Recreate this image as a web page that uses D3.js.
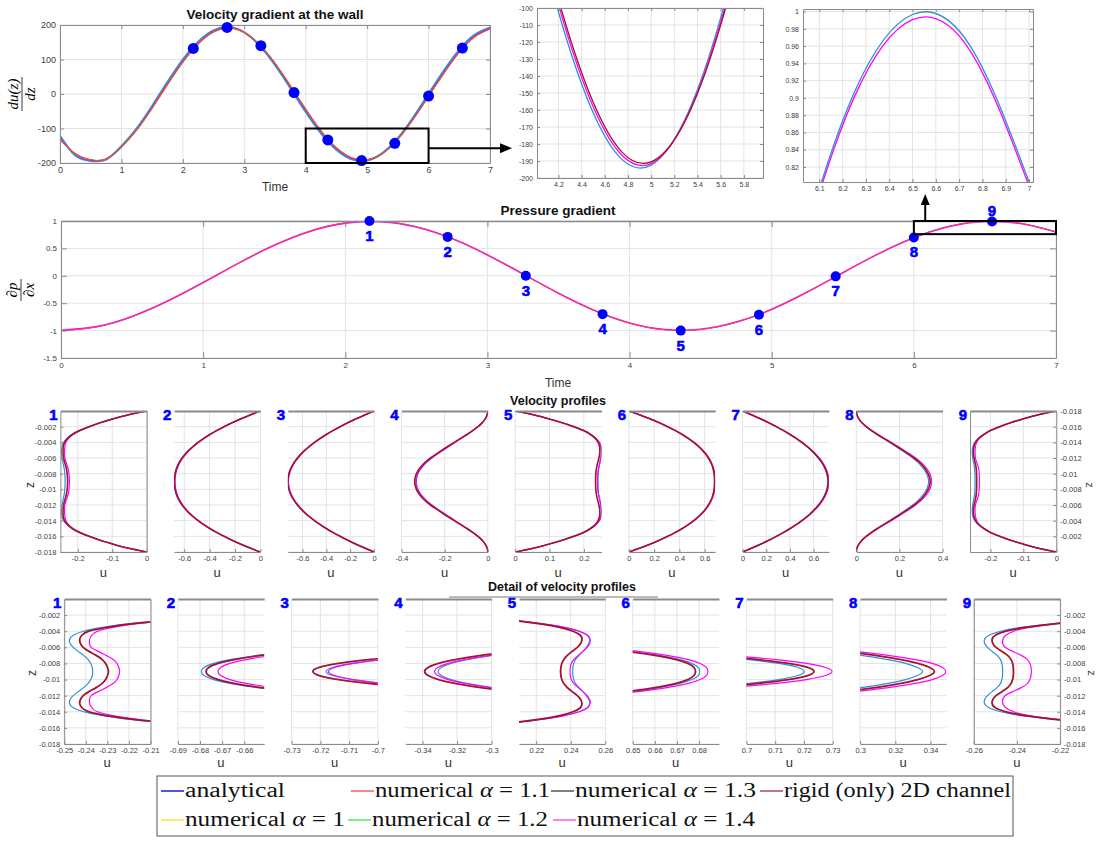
<!DOCTYPE html>
<html>
<head>
<meta charset="utf-8">
<script src="https://cdnjs.cloudflare.com/ajax/libs/d3/7.8.5/d3.min.js"></script>
<style>
  body { margin: 0; background: #fff; }
  text { font-family: "Liberation Sans", Arial, sans-serif; }
</style>
</head>
<body>
<div id="chart"></div>
<script>
// ---------------- values ----------------
var timeGrid = [0, 0.25, 0.5, 0.75, 1, 1.25, 1.5, 1.75, 2, 2.25, 2.5, 2.75, 3, 3.25, 3.5,
  3.75, 4, 4.25, 4.5, 4.75, 5, 5.25, 5.5, 5.75, 6, 6.25, 6.5, 6.75, 7];

// velocity gradient at the wall du/dz
var dudzAnalytical = [-122, -178, -193.7, -189.7, -151.7, -99.9, -35.0, 34.3, 99.4, 151.5, 184.4,
  193.8, 178.5, 140.5, 84.5, 17.8, -51.3, -113.8, -161.6, -189.2, -192.4, -171.2, -128.3,
  -68.1, -0.3, 67.5, 127.8, 171.0, 192.4];
var dudzRigid = [-133, -172.9, -190.6, -188.4, -153.8, -104.3, -41.2, 27.1, 92.1, 145.0, 179.6,
  191.2, 178.6, 143.2, 89.4, 24.3, -43.9, -106.6, -155.5, -184.9, -190.5, -172.0, -131.6,
  -73.6, -7.2, 60.1, 120.8, 165.3, 188.6];
var dudzAlpha14 = [-127, -175.2, -192.0, -189.1, -153.2, -102.6, -38.8, 30.0, 95.1, 147.7, 181.7,
  192.5, 178.8, 142.2, 87.6, 21.7, -46.9, -109.6, -158.1, -186.8, -191.5, -171.9, -130.4,
  -71.5, -4.5, 63.1, 123.7, 167.7, 190.3];

// pressure gradient dp/dx
var dpdxAnalytical = [-1.0, -0.9330, -0.7461, -0.4641, -0.1235, 0.2331, 0.5602, 0.8153, 0.9668,
  0.9950, 0.8962, 0.6832, 0.3829, 0.0341, -0.3192, -0.6317, -0.8647, -0.9862, -0.9806,
  -0.8500, -0.6150, -0.2984, 0.0557, 0.4023, 0.6985, 0.9063, 0.9966, 0.9592, 0.8027];
var dpdxAlpha14 = [-0.994, -0.9274, -0.7416, -0.4613, -0.1228, 0.2317, 0.5568, 0.8104, 0.9610,
  0.9890, 0.8908, 0.6791, 0.3806, 0.0339, -0.3173, -0.6279, -0.8595, -0.9803, -0.9747,
  -0.8449, -0.6113, -0.2966, 0.0554, 0.3999, 0.6943, 0.9009, 0.9906, 0.9534, 0.7979];

// the nine marked instants
var snapLabels = ["1", "2", "3", "4", "5", "6", "7", "8", "9"];
var snapTimes = [2.17, 2.72, 3.27, 3.81, 4.36, 4.91, 5.45, 6.00, 6.55];
var snapDudz = [132, 193, 140, 4, -133, -193, -143, -6, 133];
var snapDpdx = [1.0, 0.71, 0.0, -0.70, -1.0, -0.71, -0.01, 0.70, 0.99];

// velocity profiles: z from the upper wall to the channel centre (profiles are symmetric)
var zHalf = [0, -0.0005, -0.001, -0.0015, -0.002, -0.0025, -0.003, -0.0035, -0.004, -0.0045,
  -0.005, -0.0055, -0.006, -0.0065, -0.007, -0.0075, -0.008, -0.0085, -0.009];

var uAnalytical = [
  [0, -0.055, -0.097, -0.135, -0.168, -0.196, -0.2175, -0.2315, -0.2410, -0.2458, -0.2475, -0.2473, -0.2458, -0.2435, -0.2410, -0.2390, -0.2377, -0.2370, -0.2368],
  [0, -0.0800, -0.1545, -0.2237, -0.2876, -0.3463, -0.3998, -0.4483, -0.4919, -0.5305, -0.5644, -0.5935, -0.6181, -0.6383, -0.6542, -0.6659, -0.6739, -0.6782, -0.6794],
  [0, -0.0775, -0.1507, -0.2194, -0.2837, -0.3435, -0.3989, -0.4498, -0.4964, -0.5385, -0.5762, -0.6094, -0.6382, -0.6626, -0.6825, -0.6980, -0.7091, -0.7158, -0.7180],
  [0, -0.003, -0.012, -0.026, -0.046, -0.070, -0.096, -0.124, -0.152, -0.180, -0.2075, -0.2345, -0.2600, -0.2815, -0.2995, -0.3135, -0.3235, -0.3292, -0.3310],
  [0, 0.055, 0.098, 0.137, 0.171, 0.200, 0.2205, 0.2355, 0.2448, 0.2495, 0.2509, 0.2505, 0.2490, 0.2470, 0.2448, 0.2428, 0.2417, 0.2412, 0.2411],
  [0, 0.0873, 0.1676, 0.2411, 0.3081, 0.3687, 0.4232, 0.4717, 0.5143, 0.5514, 0.5831, 0.6098, 0.6316, 0.6489, 0.6619, 0.6710, 0.6768, 0.6796, 0.6803],
  [0, 0.0778, 0.1512, 0.2201, 0.2845, 0.3445, 0.4001, 0.4511, 0.4979, 0.5401, 0.5779, 0.6112, 0.6401, 0.6645, 0.6845, 0.7001, 0.7112, 0.7179, 0.7201],
  [0, 0.003, 0.012, 0.026, 0.046, 0.070, 0.097, 0.1255, 0.1545, 0.1825, 0.2095, 0.2360, 0.2615, 0.2830, 0.3005, 0.3150, 0.3258, 0.3325, 0.3355],
  [0, -0.057, -0.100, -0.139, -0.172, -0.200, -0.2205, -0.2370, -0.2475, -0.2530, -0.2550, -0.2550, -0.2537, -0.2515, -0.2492, -0.2477, -0.2470, -0.2467, -0.2466]
];
var uRigid = [
  [0, -0.055, -0.097, -0.135, -0.167, -0.195, -0.2160, -0.2295, -0.2385, -0.2418, -0.2428, -0.2425, -0.2412, -0.2385, -0.2352, -0.2325, -0.2308, -0.2299, -0.2295],
  [0, -0.0797, -0.1540, -0.2230, -0.2867, -0.3452, -0.3986, -0.4469, -0.4904, -0.5289, -0.5626, -0.5917, -0.6162, -0.6363, -0.6522, -0.6639, -0.6718, -0.6761, -0.6773],
  [0, -0.0780, -0.1517, -0.2208, -0.2855, -0.3457, -0.4015, -0.4527, -0.4996, -0.5420, -0.5799, -0.6133, -0.6423, -0.6668, -0.6869, -0.7025, -0.7137, -0.7204, -0.7226],
  [0, -0.003, -0.012, -0.026, -0.046, -0.070, -0.097, -0.126, -0.1555, -0.1845, -0.2125, -0.2395, -0.2655, -0.2878, -0.3062, -0.3205, -0.3308, -0.3368, -0.3388],
  [0, 0.055, 0.098, 0.137, 0.170, 0.199, 0.2190, 0.2330, 0.2413, 0.2455, 0.2465, 0.2458, 0.2438, 0.2408, 0.2380, 0.2360, 0.2348, 0.2343, 0.2341],
  [0, 0.0870, 0.1671, 0.2404, 0.3072, 0.3677, 0.4220, 0.4703, 0.5129, 0.5498, 0.5815, 0.6080, 0.6298, 0.6471, 0.6600, 0.6692, 0.6749, 0.6777, 0.6784],
  [0, 0.0781, 0.1519, 0.2211, 0.2859, 0.3461, 0.4020, 0.4533, 0.5002, 0.5426, 0.5806, 0.6141, 0.6431, 0.6676, 0.6878, 0.7034, 0.7146, 0.7213, 0.7235],
  [0, 0.003, 0.012, 0.026, 0.046, 0.070, 0.0975, 0.127, 0.157, 0.1865, 0.215, 0.2425, 0.2685, 0.2905, 0.3085, 0.3225, 0.3328, 0.3395, 0.3422],
  [0, -0.057, -0.100, -0.139, -0.172, -0.200, -0.2200, -0.2355, -0.2450, -0.2500, -0.2515, -0.2512, -0.2497, -0.2470, -0.2443, -0.2428, -0.2420, -0.2417, -0.2416]
];
var uAlpha14 = [
  [0, -0.054, -0.096, -0.134, -0.166, -0.193, -0.2140, -0.2268, -0.2345, -0.2372, -0.2382, -0.2383, -0.2375, -0.2342, -0.2306, -0.2273, -0.2255, -0.2247, -0.2243],
  [0, -0.0791, -0.1528, -0.2212, -0.2844, -0.3425, -0.3954, -0.4434, -0.4865, -0.5247, -0.5581, -0.5870, -0.6113, -0.6313, -0.6470, -0.6586, -0.6665, -0.6707, -0.6719],
  [0, -0.0775, -0.1505, -0.2192, -0.2834, -0.3431, -0.3985, -0.4493, -0.4959, -0.5379, -0.5756, -0.6088, -0.6375, -0.6618, -0.6818, -0.6973, -0.7084, -0.7150, -0.7172],
  [0, -0.003, -0.012, -0.026, -0.046, -0.070, -0.096, -0.124, -0.152, -0.180, -0.2075, -0.2345, -0.2600, -0.2820, -0.3003, -0.3148, -0.3252, -0.3312, -0.3331],
  [0, 0.055, 0.098, 0.137, 0.171, 0.200, 0.2205, 0.2356, 0.2450, 0.2498, 0.2512, 0.2510, 0.2495, 0.2470, 0.2443, 0.2418, 0.2403, 0.2397, 0.2396],
  [0, 0.0878, 0.1685, 0.2424, 0.3098, 0.3707, 0.4255, 0.4742, 0.5171, 0.5544, 0.5863, 0.6131, 0.6350, 0.6524, 0.6655, 0.6747, 0.6805, 0.6833, 0.6840],
  [0, 0.0788, 0.1532, 0.2230, 0.2883, 0.3491, 0.4055, 0.4572, 0.5046, 0.5474, 0.5857, 0.6195, 0.6487, 0.6735, 0.6937, 0.7095, 0.7209, 0.7275, 0.7298],
  [0, 0.003, 0.012, 0.027, 0.048, 0.073, 0.101, 0.131, 0.1615, 0.1915, 0.2205, 0.2485, 0.2745, 0.2975, 0.3160, 0.3305, 0.3410, 0.3468, 0.3487],
  [0, -0.056, -0.099, -0.138, -0.171, -0.199, -0.2190, -0.2335, -0.2415, -0.2452, -0.2465, -0.2466, -0.2455, -0.2420, -0.2380, -0.2352, -0.2340, -0.2335, -0.2333]
];

// axis ranges and tick values
var zTicks = [-0.018, -0.016, -0.014, -0.012, -0.01, -0.008, -0.006, -0.004, -0.002];
var profileXDomain = [[-0.2505, 0], [-0.68, 0], [-0.7226, 0], [-0.4, 0], [0, 0.2513],
  [0, 0.684], [0, 0.7298], [0, 0.4], [-0.262, 0]];
var profileXTicks = [[-0.2, -0.1, 0], [-0.6, -0.4, -0.2, 0], [-0.6, -0.4, -0.2, 0], [-0.4, -0.2, 0],
  [0, 0.1, 0.2], [0, 0.2, 0.4, 0.6], [0, 0.2, 0.4, 0.6], [0, 0.2, 0.4], [-0.2, -0.1, 0]];
var detailXDomain = [[-0.25, -0.21], [-0.69, -0.651], [-0.73, -0.70], [-0.35, -0.30], [0.21, 0.26],
  [0.65, 0.689], [0.70, 0.73], [0.30, 0.349], [-0.26, -0.22]];
var detailXTicks = [[-0.25, -0.24, -0.23, -0.22, -0.21], [-0.69, -0.68, -0.67, -0.66],
  [-0.73, -0.72, -0.71, -0.7], [-0.34, -0.32, -0.3], [0.22, 0.24, 0.26], [0.65, 0.66, 0.67, 0.68],
  [0.7, 0.71, 0.72, 0.73], [0.3, 0.32, 0.34], [-0.26, -0.24, -0.22]];
var timeTicks = [0, 1, 2, 3, 4, 5, 6, 7];
var dudzTicks = [-200, -100, 0, 100, 200];
var dpdxTicks = [-1.5, -1, -0.5, 0, 0.5, 1];
var zoom1XTicks = [4.2, 4.4, 4.6, 4.8, 5, 5.2, 5.4, 5.6, 5.8];
var zoom1YTicks = [-200, -190, -180, -170, -160, -150, -140, -130, -120, -110, -100];
var zoom2XTicks = [6.1, 6.2, 6.3, 6.4, 6.5, 6.6, 6.7, 6.8, 6.9, 7];
var zoom2YTicks = [0.82, 0.84, 0.86, 0.88, 0.9, 0.92, 0.94, 0.96, 0.98, 1];

var legendLabels = ["analytical", "numerical α = 1", "numerical α = 1.1", "numerical α = 1.2",
  "numerical α = 1.3", "numerical α = 1.4", "rigid (only) 2D channel"];
var legendColors = ["#1a1ae6", "#f2ee2a", "#ff5a5a", "#5ae65a", "#555555", "#ff5aff", "#a84a62"];

// line colours used in the panels
var cBlue = "#2f8fd6", cMag = "#ff00ff", cRed = "#a2142f", cOrange = "#e0622a";

// ---------------- drawing ----------------
var svg = d3.select("#chart").append("svg").attr("width", 1099).attr("height", 841);
var defs = svg.append("defs");
var clipCount = 0;

function fmt(d) { return String(Math.round(d * 1e6) / 1e6); }

function drawAxes(b, drawData) {
  var right = b.left + b.width, bottom = b.top + b.height;
  var x = d3.scaleLinear().domain(b.xDomain).range([b.left, right]);
  var y = d3.scaleLinear().domain(b.yDomain).range(b.yFlip ? [b.top, bottom] : [bottom, b.top]);
  var g = svg.append("g");

  // grid
  g.selectAll("line.gx").data(b.xTicks).enter().append("line").attr("class", "gx")
    .attr("x1", d => x(d)).attr("x2", d => x(d)).attr("y1", b.top).attr("y2", bottom)
    .attr("stroke", "#e3e3e3");
  g.selectAll("line.gy").data(b.yTicks).enter().append("line").attr("class", "gy")
    .attr("x1", b.left).attr("x2", right).attr("y1", d => y(d)).attr("y2", d => y(d))
    .attr("stroke", "#e3e3e3");

  var id = "clip" + (clipCount++);
  defs.append("clipPath").attr("id", id).append("rect")
    .attr("x", b.left).attr("y", b.top).attr("width", b.width).attr("height", b.height);
  var plot = g.append("g").attr("clip-path", "url(#" + id + ")");
  drawData(plot, x, y);

  var tk = b.tick || 4, fs = b.fontSize || 8, col = "#8a8a8a";
  function style(ax) {
    ax.selectAll(".domain").attr("stroke", col);
    ax.selectAll(".tick line").attr("stroke", col);
    ax.selectAll(".tick text").attr("fill", "#404040")
      .style("font-size", fs + "px").style("font-family", "'Liberation Sans', Arial, sans-serif");
  }
  var xb = g.append("g").attr("transform", "translate(0," + bottom + ")")
    .call(d3.axisBottom(x).tickValues(b.xTicks).tickSize(-tk).tickSizeOuter(0).tickPadding(4).tickFormat(fmt));
  style(xb);
  var xt = g.append("g").attr("transform", "translate(0," + b.top + ")")
    .call(d3.axisTop(x).tickValues(b.xTicks).tickSize(b.noTopTicks ? 0 : -tk).tickSizeOuter(0).tickFormat(""));
  style(xt);
  xt.select(".domain").attr("stroke-width", b.topWidth || 1);
  if (b.leftAxis) {
    var yl = g.append("g").attr("transform", "translate(" + b.left + ",0)")
      .call(d3.axisLeft(y).tickValues(b.yTicks).tickSize(b.leftAxis === "line" ? 0 : -tk).tickSizeOuter(0)
        .tickPadding(4).tickFormat(b.leftAxis === "labels" ? fmt : ""));
    style(yl);
  }
  if (b.rightAxis) {
    var yr = g.append("g").attr("transform", "translate(" + right + ",0)")
      .call(d3.axisRight(y).tickValues(b.yTicks).tickSize(b.rightAxis === "line" ? 0 : -tk).tickSizeOuter(0)
        .tickPadding(4).tickFormat(b.rightAxis === "labels" ? fmt : ""));
    style(yr);
  }
  return { x: x, y: y, g: g };
}

var smooth = d3.line().curve(d3.curveNatural);

function timePath(plot, x, y, values, color, width) {
  plot.append("path")
    .attr("d", smooth(timeGrid.map((t, i) => [x(t), y(values[i])])))
    .attr("fill", "none").attr("stroke", color).attr("stroke-width", width);
}

function profilePath(plot, x, y, half, color, width) {
  var pts = half.map((u, i) => [u, zHalf[i]]);
  for (var i = half.length - 2; i >= 0; i--) pts.push([half[i], -0.018 - zHalf[i]]);
  plot.append("path")
    .attr("d", smooth(pts.map(p => [x(p[0]), y(p[1])])))
    .attr("fill", "none").attr("stroke", color).attr("stroke-width", width);
}

function title(x, y, txt, size) {
  svg.append("text").attr("x", x).attr("y", y).attr("text-anchor", "middle")
    .style("font-weight", "bold").style("font-size", size + "px").attr("fill", "#111").text(txt);
}
function label(x, y, txt, size, rotate) {
  svg.append("text").attr("transform", "translate(" + x + "," + y + ")" + (rotate ? " rotate(" + rotate + ")" : ""))
    .attr("text-anchor", "middle").style("font-size", size + "px").attr("fill", "#333").text(txt);
}
function fracLabel(cx, cy, num, den, half) {
  var g = svg.append("g").attr("transform", "translate(" + cx + "," + cy + ") rotate(-90)");
  g.append("text").attr("y", -4).attr("text-anchor", "middle")
    .style("font-family", "'Liberation Serif', serif").style("font-style", "italic").style("font-size", "15px").text(num);
  g.append("line").attr("x1", -half).attr("x2", half).attr("stroke", "#222").attr("stroke-width", 0.9);
  g.append("text").attr("y", 13).attr("text-anchor", "middle")
    .style("font-family", "'Liberation Serif', serif").style("font-style", "italic").style("font-size", "15px").text(den);
}
function snapNumber(x, y, txt) {
  svg.append("text").attr("x", x).attr("y", y).attr("text-anchor", "middle")
    .style("font-weight", "900").style("font-size", "15px")
    .attr("fill", "#0000ff").attr("stroke", "#0000ff").attr("stroke-width", 0.6).text(txt);
}

// ---- velocity gradient at the wall ----
var topAx = drawAxes({ left: 60, top: 25, width: 430, height: 138, xDomain: [0, 7], yDomain: [-200, 200],
  xTicks: timeTicks, yTicks: dudzTicks, leftAxis: "labels", rightAxis: "ticks", fontSize: 9, tick: 4 },
  function (plot, x, y) {
    timePath(plot, x, y, dudzAnalytical, cBlue, 2.2);
    timePath(plot, x, y, dudzAlpha14, cMag, 1);
    timePath(plot, x, y, dudzRigid, cRed, 1);
    timePath(plot, x, y, dudzRigid, cOrange, 1.2);
  });
topAx.g.selectAll("circle").data(snapTimes).enter().append("circle")
  .attr("cx", d => topAx.x(d)).attr("cy", (d, i) => topAx.y(snapDudz[i])).attr("r", 5.5).attr("fill", "#0000ff");
title(275, 19, "Velocity gradient at the wall", 13.5);
label(275, 191, "Time", 12);
fracLabel(22, 94, "du(z)", "dz", 17);

// zoom on the minimum
var zoom1 = drawAxes({ left: 537, top: 8, width: 226, height: 170, xDomain: [4.015, 5.965], yDomain: [-200, -100],
  xTicks: zoom1XTicks, yTicks: zoom1YTicks, leftAxis: "labels", rightAxis: "ticks", fontSize: 7, tick: 3 },
  function (plot, x, y) {
    timePath(plot, x, y, dudzAnalytical, cBlue, 1.3);
    timePath(plot, x, y, dudzAlpha14, cMag, 1.3);
    timePath(plot, x, y, dudzRigid, cRed, 1.3);
  });

// zoom on the pressure maximum
var zoom2 = drawAxes({ left: 803, top: 9, width: 230, height: 173, xDomain: [6.03, 7.017], yDomain: [0.8026, 1.003],
  xTicks: zoom2XTicks, yTicks: zoom2YTicks, leftAxis: "labels", rightAxis: "ticks", fontSize: 7, tick: 3 },
  function (plot, x, y) {
    timePath(plot, x, y, dpdxAlpha14, cMag, 1.3);
    timePath(plot, x, y, dpdxAnalytical, cBlue, 1.3);
  });

// ---- pressure gradient ----
var pAx = drawAxes({ left: 61, top: 221, width: 995, height: 137, xDomain: [0, 7], yDomain: [-1.5, 1],
  xTicks: timeTicks, yTicks: dpdxTicks, leftAxis: "labels", rightAxis: "ticks", fontSize: 8, tick: 6, topWidth: 1.3 },
  function (plot, x, y) {
    timePath(plot, x, y, dpdxAnalytical, cBlue, 0.8);
    timePath(plot, x, y, dpdxAlpha14, cMag, 1.6);
    timePath(plot, x, y, dpdxAnalytical, cOrange, 0.8);
  });
pAx.g.selectAll("circle").data(snapTimes).enter().append("circle")
  .attr("cx", d => pAx.x(d)).attr("cy", (d, i) => pAx.y(snapDpdx[i])).attr("r", 5).attr("fill", "#0000ff");
snapTimes.forEach(function (t, i) {
  var py = pAx.y(snapDpdx[i]);
  snapNumber(pAx.x(t), i === 8 ? py - 6 : py + 20, snapLabels[i]);
});
title(558, 215, "Pressure gradient", 13.5);
label(558, 387, "Time", 12);
fracLabel(21, 290, "∂p", "∂x", 11);

// boxes and arrows linking the zoomed views
svg.append("rect").attr("x", topAx.x(4)).attr("y", topAx.y(-100))
  .attr("width", topAx.x(6) - topAx.x(4)).attr("height", topAx.y(-200) - topAx.y(-100))
  .attr("fill", "none").attr("stroke", "#000").attr("stroke-width", 2);
var ay = topAx.y(-157);
svg.append("line").attr("x1", topAx.x(6)).attr("y1", ay).attr("x2", 502).attr("y2", ay)
  .attr("stroke", "#000").attr("stroke-width", 2);
svg.append("path").attr("d", "M512," + ay + " L500," + (ay - 5) + " L500," + (ay + 5) + " Z").attr("fill", "#000");

svg.append("rect").attr("x", pAx.x(6)).attr("y", pAx.y(1))
  .attr("width", pAx.x(7) - pAx.x(6)).attr("height", pAx.y(0.76) - pAx.y(1))
  .attr("fill", "none").attr("stroke", "#000").attr("stroke-width", 2);
var ax = pAx.x(6.08);
svg.append("line").attr("x1", ax).attr("y1", pAx.y(1)).attr("x2", ax).attr("y2", 204)
  .attr("stroke", "#000").attr("stroke-width", 2);
svg.append("path").attr("d", "M" + ax + ",194 L" + (ax - 4.5) + ",205 L" + (ax + 4.5) + ",205 Z").attr("fill", "#000");

// ---- velocity profiles ----
title(558, 405, "Velocity profiles", 12.5);
for (var i = 0; i < 9; i++) {
  (function (i) {
    var left = 60.4 + 113.7 * i;
    drawAxes({ left: left, top: 411, width: 86.3, height: 141, xDomain: profileXDomain[i], yDomain: [-0.018, 0],
      yFlip: i === 8, xTicks: profileXTicks[i], yTicks: zTicks, fontSize: 7.5, tick: 3, topWidth: 1.8, noTopTicks: true,
      leftAxis: i === 0 ? "labels" : (i === 8 ? "line" : null),
      rightAxis: i === 8 ? "labels" : (i === 0 ? "line" : null) },
      function (plot, x, y) {
        profilePath(plot, x, y, uAnalytical[i], cBlue, 1.2);
        profilePath(plot, x, y, uAlpha14[i], cMag, 1.2);
        profilePath(plot, x, y, uRigid[i], cRed, 1.6);
      });
    snapNumber(left - 7, 420, snapLabels[i]);
    label(left + 43, 577, "u", 13);
  })(i);
}
label(34, 485, "z", 12, -90);

// ---- detail of velocity profiles ----
title(562, 591, "Detail of velocity profiles", 12.5);
svg.append("line").attr("x1", 449).attr("x2", 658).attr("y1", 597).attr("y2", 597)
  .attr("stroke", "#777").attr("stroke-width", 1);
for (var j = 0; j < 9; j++) {
  (function (i) {
    var left = 64.2 + 113.7 * i;
    drawAxes({ left: left, top: 599, width: 86.3, height: 145, xDomain: detailXDomain[i], yDomain: [-0.018, 0],
      xTicks: detailXTicks[i], yTicks: zTicks, fontSize: 7.5, tick: 3, topWidth: 1.8, noTopTicks: true,
      leftAxis: i === 0 ? "labels" : (i === 8 ? "line" : null),
      rightAxis: i === 8 ? "labels" : (i === 0 ? "line" : null) },
      function (plot, x, y) {
        profilePath(plot, x, y, uAnalytical[i], cBlue, 1.2);
        profilePath(plot, x, y, uAlpha14[i], cMag, 1.2);
        profilePath(plot, x, y, uRigid[i], cRed, 1.8);
      });
    snapNumber(left - 7, 608, snapLabels[i]);
    label(left + 43, 767, "u", 13);
  })(j);
}
label(36, 673, "z", 12, -90);
label(1086, 485, "z", 11, 90);
label(1088, 673, "z", 11, 90);

// ---- legend ----
var legPos = [[161, 797], [161, 826], [351, 797], [348, 826], [551, 797], [553, 826], [760, 797]];
var legWidth = [100, 160, 175, 176, 181, 178, 227];
svg.append("rect").attr("x", 157).attr("y", 776).attr("width", 856).attr("height", 60)
  .attr("fill", "#fff").attr("stroke", "#555").attr("stroke-width", 1);
legendLabels.forEach(function (txt, k) {
  var p = legPos[k];
  svg.append("line").attr("x1", p[0]).attr("x2", p[0] + 23).attr("y1", p[1] - 6).attr("y2", p[1] - 6)
    .attr("stroke", legendColors[k]).attr("stroke-width", 1.5);
  var t = svg.append("text").attr("x", p[0] + 24).attr("y", p[1])
    .attr("textLength", legWidth[k]).attr("lengthAdjust", "spacingAndGlyphs")
    .style("font-family", "'Liberation Serif', serif").style("font-size", "20px").attr("fill", "#111");
  var parts = txt.split("α");
  t.append("tspan").text(parts[0]);
  if (parts.length > 1) {
    t.append("tspan").style("font-style", "italic").text("α");
    t.append("tspan").text(parts[1]);
  }
});
</script>
</body>
</html>
